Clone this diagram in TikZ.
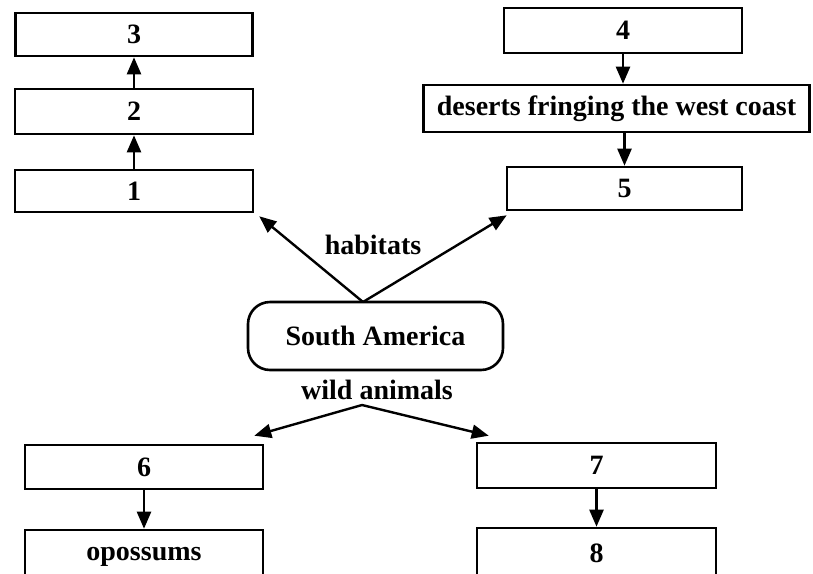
\documentclass[tikz,border=0pt]{standalone}
\usepackage{fontspec}
\setmainfont{Liberation Serif}
\usetikzlibrary{arrows.meta,calc}
\begin{document}
\begin{tikzpicture}[x=1pt,y=-1pt,
  box/.style={draw,line width=2.6pt,rectangle,inner sep=0pt,
              font=\fontsize{28}{30}\selectfont\bfseries},
  hub/.style={box,rounded corners=22pt},
  lbl/.style={inner sep=0pt,font=\fontsize{28}{30}\selectfont\bfseries},
  arr/.style={line width=2.4pt,-{Triangle[width=14pt,length=17pt]}},
  link/.style={line width=2.4pt,-{Triangle[width=14pt,length=17pt]}}]
  \clip (0,0) rectangle (813,573);

  % habitats, left column
  \node[box,minimum width=237pt,minimum height=43pt] (b3) at (134,34.5) {3};
  \node[box,minimum width=238pt,minimum height=45pt] (b2) at (134,111.5) {2};
  \node[box,minimum width=238pt,minimum height=42pt] (b1) at (134,191) {1};

  % habitats, right column
  \node[box,minimum width=238pt,minimum height=45pt] (b4) at (623,30.5) {4};
  \node[box,minimum width=386pt,minimum height=47pt] (des) at (616.5,108.5) {deserts fringing the west coast};
  \node[box,minimum width=235pt,minimum height=43pt] (b5) at (624.5,188.5) {5};

  % centre
  \node[hub,minimum width=255pt,minimum height=68pt] (sa) at (375.5,336) {South America};
  \node[lbl] (hab) at (373,245) {habitats};
  \node[lbl] (wild) at (377,390) {wild animals};
  \coordinate (up) at (363,302);
  \coordinate (down) at (362,405);

  % wild animals
  \node[box,minimum width=238pt,minimum height=44pt] (b6) at (144,467) {6};
  \node[box,minimum width=238pt,minimum height=54pt] (op) at (144,557) {opossums};
  \node[box,minimum width=239pt,minimum height=45pt] (b7) at (596.5,465.5) {7};
  \node[box,minimum width=239pt,minimum height=50pt] (b8) at (596.5,553) {8};

  % vertical chains
  \draw[arr] (b1.north) -- (b2.south);
  \draw[arr] (b2.north) -- (b3.south);
  \draw[arr] (b4.south) -- (b4.south |- des.north);
  \draw[arr] (b5.north |- des.south) -- (b5.north);
  \draw[arr] (b6.south) -- (b6.south |- op.north);
  \draw[arr] (b7.south) -- (b7.south |- b8.north);

  % from the hub
  \draw[link] (up) -- ($(b1.south east)+(5,3)$);
  \draw[link] (up) -- ($(b5.south west)+(1,4)$);
  \draw[link] (down) -- ($(b6.north east)+(-10,-8)$);
  \draw[link] (down) -- ($(b7.north west)+(13,-6)$);
\end{tikzpicture}
\end{document}
